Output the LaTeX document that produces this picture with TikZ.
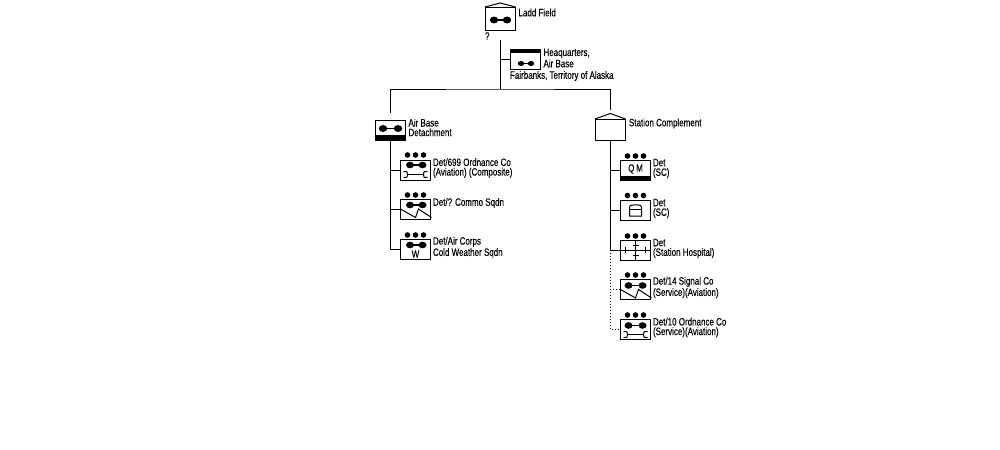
\documentclass[tikz,border=0pt]{standalone}
\usepackage{fontspec}
\setmainfont[FakeStretch=0.75,FakeBold=0.3]{Liberation Sans}
\tikzset{
  x=0.75pt,y=-0.75pt,
  every path/.style={line width=0.75pt,black},
  box/.style={draw,rectangle,minimum width=22.9pt,minimum height=15pt,inner sep=0pt,outer sep=0pt},
  lab/.style={anchor=west,inner sep=0pt,outer sep=0pt,align=left,font=\fontsize{8pt}{7.2pt}\selectfont},
  inlab/.style={inner sep=0pt,outer sep=0pt,font=\fontsize{8pt}{8pt}\selectfont},
  link/.style={draw},
  dlink/.style={draw,dash pattern=on 0.75pt off 1.5pt},
}
\newcommand{\plane}[4]{% x1 x2 y r
  \fill (#1,#3) circle[x radius=#4+1,y radius=#4+0.3] (#2,#3) circle[x radius=#4+1,y radius=#4+0.3];
  \draw[line width=1pt] (#1,#3) -- (#2,#3);}
\newcommand{\threedots}[2]{\fill (#1-8,#2) circle[radius=2.8] (#1,#2) circle[radius=2.8] (#1+8,#2) circle[radius=2.8];}
\newcommand{\ordn}[2]{% centre x, y
  \draw (#1-8,#2) -- (#1+8,#2);
  \draw (#1-12,#2-3) .. controls (#1-8,#2-3) .. (#1-8,#2) .. controls (#1-8,#2+3) .. (#1-12,#2+3);
  \draw (#1+12,#2-3) .. controls (#1+8,#2-3) .. (#1+8,#2) .. controls (#1+8,#2+3) .. (#1+12,#2+3);}
\newcommand{\zig}[2]{% left x, top y of lower part
  \draw (#1,#2) -- (#1+15,#2+8.5) -- (#1+18,#2) -- (#1+31,#2+8.5);}
\begin{document}
\begin{tikzpicture}
\useasboundingbox (0,0) rectangle (1000,450);
% nodes
\node[box] (ladd) at (500.3,18.5) [minimum height=17.25pt] {};
\node[box] (hq) at (525.3,59) {};
\node[box] (ab) at (390.3,130) {};
\node[box] (sc) at (610.3,129.5) [minimum height=15.75pt] {};
\node[box] (d1) at (415.5,170) {};
\node[box] (d2) at (415.5,209.5) {};
\node[box] (d3) at (415.5,249.5) {};
\node[box] (s1) at (635.5,170) {};
\node[box] (s2) at (635.5,210) {};
\node[box] (s3) at (635.5,250) {};
\node[box] (s4) at (635.5,289.5) {};
\node[box] (s5) at (635.5,329.5) {};
% connectors
\coordinate (top) at (500,40);
\coordinate (bus) at (500,89);
\coordinate (abtop) at (390,113);
\coordinate (sctop) at (610,110);
\draw[link] (top) -- (bus);
\draw[link] (top) |- (hq.west);
\draw[link] (abtop) |- (bus) -| (sctop);
\draw[link] (ab.south) |- (d1.west);
\draw[link] (ab.south) |- (d2.west);
\draw[link] (ab.south) |- (d3.west);
\draw[link] (sc.south) |- (s1.west);
\draw[link] (sc.south) |- (s2.west);
\draw[link] (sc.south) |- (s3.west);
\coordinate (dt) at (sc.south |- s3.west);
\draw[dlink] (dt) |- (s4.west);
\draw[dlink] (dt) |- (s5.west);
% roofs
\draw (ladd.north west) -- (500.3,3) -- (ladd.north east);
\draw (sc.north west) -- (610.3,113.5) -- (sc.north east);
% bands
\fill (hq.north west) rectangle ([yshift=-3pt]hq.north east);
\fill (ab.south west) rectangle ([yshift=3.75pt]ab.south east);
\fill (s1.south west) rectangle ([yshift=3pt]s1.south east);
% planes
\plane{494}{507}{20}{3.2}
\plane{521}{531}{63.5}{2.2}
\plane{383}{398}{128.5}{3.2}
\plane{410}{422.5}{165}{3}
\plane{410}{422.5}{205}{3}
\plane{410}{422.5}{245}{3}
\plane{628.5}{642.5}{285.5}{3}
\plane{628.5}{642.5}{325.5}{3}
% dots
\threedots{415.5}{155}
\threedots{415.5}{195}
\threedots{415.5}{235}
\threedots{635.5}{156}
\threedots{635.5}{195.5}
\threedots{635.5}{236}
\threedots{635.5}{275}
\threedots{635.5}{315}
% branch symbols
\ordn{415.5}{174.5}
\ordn{635.5}{334.5}
\zig{400.5}{209}
\zig{620.5}{289.5}
\node[inlab] (wlabel) at (415.5,254) {W};
\node[inlab] (qmlabel) at (635.5,169) {Q\,M};
% quartermaster-dome
\draw (629.5,216) -- (629.5,208) .. controls (629.5,204.5) and (632,205) .. (635.5,205) .. controls (639,205) and (641.5,204.5) .. (641.5,208) -- (641.5,216) -- cycle;
\draw (629.5,209) -- (641.5,209);
% hospital cross
\draw (s3.north) -- (s3.south);
\draw (s3.west) -- (s3.east);
\draw (625.5,247) -- (625.5,252.5);
\draw (645.5,247) -- (645.5,252.5);
\draw (632.5,245) -- (639,245);
\draw (632.5,255.5) -- (639,255.5);
% labels
\node[lab] (t1) at (518.5,12.5) {Ladd Field};
\node[lab] (t2) at (485,36) {?};
\node[lab] (t3) at (543.5,58) {Heaquarters,\\Air Base};
\node[lab] (t4) at (510,76) {Fairbanks, Territory of Alaska};
\node[lab] (t5) at (408.5,127.5) {Air Base\\Detachment};
\node[lab] (t6) at (433,168) {Det/699 Ordnance Co\\(Aviation) (Composite)};
\node[lab] (t7) at (433,203) {Det/? Commo Sqdn};
\node[lab] (t8) at (433,247.5) {Det/Air Corps\\Cold Weather Sqdn};
\node[lab] (t9) at (629,123.5) {Station Complement};
\node[lab] (t10) at (653,168.5) {Det\\(SC)};
\node[lab] (t11) at (653,208.5) {Det\\(SC)};
\node[lab] (t12) at (653,248.5) {Det\\(Station Hospital)};
\node[lab] (t13) at (653,287.5) {Det/14 Signal Co\\(Service)(Aviation)};
\node[lab] (t14) at (653,327.5) {Det/10 Ordnance Co\\(Service)(Aviation)};
\end{tikzpicture}
\end{document}
